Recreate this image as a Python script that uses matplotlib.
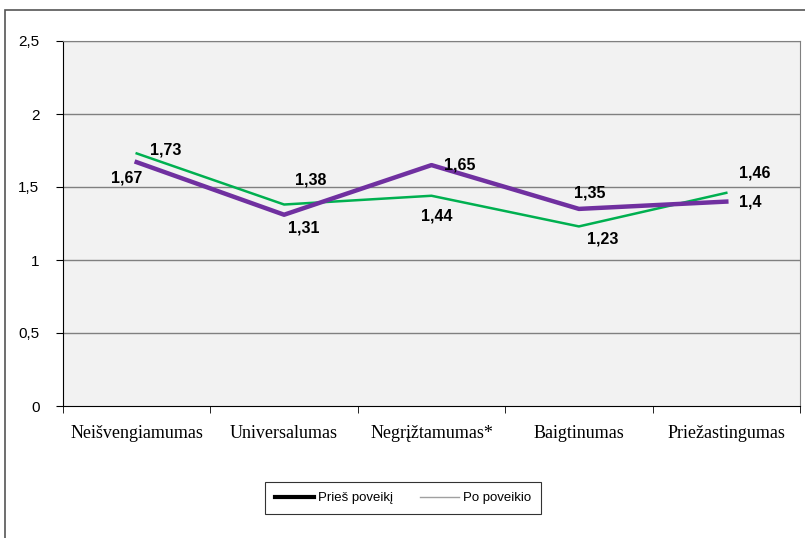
import matplotlib
matplotlib.use("Agg")
import matplotlib.pyplot as plt
from matplotlib.lines import Line2D
from matplotlib.patches import Rectangle

categories = ["Neišvengiamumas", "Universalumas", "Negrįžtamumas*", "Baigtinumas", "Priežastingumas"]
pries = [1.67, 1.31, 1.65, 1.35, 1.40]
po = [1.73, 1.38, 1.44, 1.23, 1.46]
pries_labels = ["1,67", "1,31", "1,65", "1,35", "1,4"]
po_labels = ["1,73", "1,38", "1,44", "1,23", "1,46"]
yticks = [0, 0.5, 1, 1.5, 2, 2.5]
ytick_labels = ["0", "0,5", "1", "1,5", "2", "2,5"]

W, H = 805, 538
fig = plt.figure(figsize=(W / 100, H / 100), dpi=100)
fig.patch.set_facecolor("white")
fig.add_artist(Rectangle((5 / W, -0.01), 1.02, 1 - 10 / H + 0.01, transform=fig.transFigure,
                         fill=False, edgecolor="#555555", linewidth=1.2))

ax = fig.add_axes([63 / W, 1 - 406 / H, (800 - 63) / W, (406 - 41) / H])
ax.set_facecolor("#F2F2F2")
x = list(range(len(categories)))
ax.set_xlim(-0.5, len(categories) - 0.5)
ax.set_ylim(0, 2.5)

for y in yticks[1:]:
    ax.axhline(y, color="#808080", linewidth=1.0, zorder=1)

ax.plot(x, po, color="#00B050", linewidth=1.8, zorder=3)
ax.plot(x, pries, color="#7030A0", linewidth=3.2, zorder=4)

pries_off = [(-10, -16), (20, -13), (28, 0), (11, 16), (24, 0)]
po_off = [(29, 3), (27, 25), (5, -20), (24, -13), (28, 20)]
for i in x:
    ax.annotate(pries_labels[i], (i, pries[i]), xytext=pries_off[i], textcoords="offset pixels",
                ha="center", va="center", fontsize=11.5, fontweight="bold",
                family="Liberation Sans", zorder=5)
    ax.annotate(po_labels[i], (i, po[i]), xytext=po_off[i], textcoords="offset pixels",
                ha="center", va="center", fontsize=11.5, fontweight="bold",
                family="Liberation Sans", zorder=5)

ax.set_yticks(yticks)
ax.set_yticklabels(ytick_labels, family="Liberation Sans", fontsize=11)
ax.tick_params(axis="y", direction="out", length=5, pad=12, color="black")

ax.set_xticks(x)
ax.set_xticklabels(categories, family="Liberation Serif", fontsize=13)
ax.tick_params(axis="x", which="major", length=0, pad=14)
ax.set_xticks([i - 0.5 for i in range(len(categories) + 1)], minor=True)
ax.tick_params(axis="x", which="minor", direction="out", length=5, color="black")

ax.spines["left"].set_color("black")
ax.spines["bottom"].set_color("black")
ax.spines["top"].set_color("#808080")
ax.spines["right"].set_color("#808080")

handles = [Line2D([], [], color="black", linewidth=3),
           Line2D([], [], color="#A0A0A0", linewidth=1)]
leg = fig.legend(handles, ["Prieš poveikį", "Po poveikio"], loc="center",
                 bbox_to_anchor=(403 / W, 1 - 498 / H), ncol=2, frameon=True,
                 fancybox=False, edgecolor="black", handlelength=3, handletextpad=0.3,
                 columnspacing=2.0, borderpad=0.75, borderaxespad=0.3,
                 prop={"family": "Liberation Sans", "size": 9.5})
leg.get_frame().set_linewidth(0.8)

fig.savefig("out.png", dpi=100)
